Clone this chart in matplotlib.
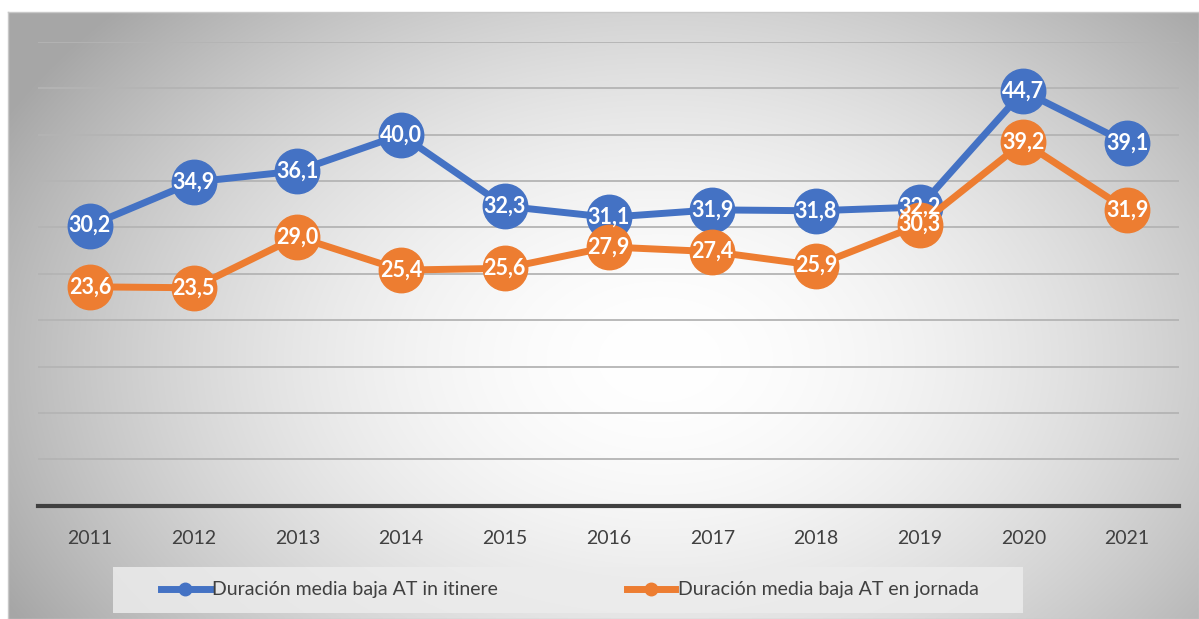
import numpy as np
import matplotlib
matplotlib.use("Agg")
import matplotlib.pyplot as plt
from matplotlib.lines import Line2D
from matplotlib.patches import Rectangle

years = ["2011", "2012", "2013", "2014", "2015", "2016", "2017", "2018", "2019", "2020", "2021"]
itinere = [30.2, 34.9, 36.1, 40.0, 32.3, 31.1, 31.9, 31.8, 32.2, 44.7, 39.1]
jornada = [23.6, 23.5, 29.0, 25.4, 25.6, 27.9, 27.4, 25.9, 30.3, 39.2, 31.9]
names = ["Duración media baja AT in itinere", "Duración media baja AT en jornada"]
colors = ["#4472C4", "#ED7D31"]

W, H = 1199, 619
fig = plt.figure(figsize=(W / 100, H / 100), dpi=100)
fig.patch.set_facecolor("white")

# radial grey background of the chart area
bx0, by0, bx1, by1 = 8, 12, 1199, 619
bg = fig.add_axes([bx0 / W, 1 - by1 / H, (bx1 - bx0) / W, (by1 - by0) / H])
gx, gy = np.meshgrid(np.linspace(bx0, bx1, 400), np.linspace(by0, by1, 200))
r = np.sqrt(((gx - 660) / 620) ** 2 + ((gy - 360) / 430) ** 2)
r = np.clip(r, 0, 1.2)
shade = 1 - 0.25 * r ** 1.8
bg.imshow(np.dstack([shade] * 3), aspect="auto", extent=[0, 1, 0, 1], interpolation="bilinear")
bg.set_xlim(0, 1)
bg.set_ylim(0, 1)
for s in bg.spines.values():
    s.set_color("#c8c8c8")
    s.set_linewidth(1)
bg.set_xticks([])
bg.set_yticks([])

# main axes
top, base, left, right = 42, 505.7, 38, 1179
ax = fig.add_axes([left / W, 1 - base / H, (right - left) / W, (base - top) / H])
ax.patch.set_alpha(0)
x = np.arange(len(years))
ax.set_xlim(-0.5, len(years) - 0.5)
ax.set_ylim(0, 50)
ax.set_yticks(np.arange(5, 51, 5))
ax.yaxis.grid(True, color="#b4b4b4", linewidth=1.3)
ax.set_axisbelow(True)
ax.tick_params(axis="y", left=False, labelleft=False)
ax.tick_params(axis="x", bottom=False, labelsize=14, labelcolor="#404040", pad=14)
ax.set_xticks(x)
ax.set_xticklabels(years, fontfamily="Lato")
for s in ["top", "left", "right"]:
    ax.spines[s].set_visible(False)
ax.spines["bottom"].set_color("#404040")
ax.spines["bottom"].set_linewidth(3)

for vals, c in zip([itinere, jornada], colors):
    ax.plot(x, vals, color=c, linewidth=5, marker="o", markersize=32,
            markerfacecolor=c, markeredgecolor=c, zorder=3, solid_capstyle="round")
for vals in [itinere, jornada]:
    for xi, v in zip(x, vals):
        ax.text(xi, v, f"{v:.1f}".replace(".", ","), ha="center", va="center",
                color="white", fontsize=15.5, fontweight="bold", fontfamily="Lato", zorder=5)

# legend
fig.patches.append(Rectangle((113 / W, 1 - 613 / H), (1023 - 113) / W, 46 / H,
                             transform=fig.transFigure, facecolor="#ececec",
                             edgecolor="none", alpha=0.85, zorder=1))
handles = [Line2D([0], [0], color=c, linewidth=5, marker="o", markersize=9) for c in colors]
leg = fig.legend(handles, names, loc="center", bbox_to_anchor=(570 / W, 1 - 590 / H),
                 ncol=2, frameon=False, handlelength=2.5, handletextpad=0.15,
                 columnspacing=6.6, prop={"family": "Lato", "size": 14})
for t in leg.get_texts():
    t.set_color("#404040")

fig.savefig("out.png", dpi=100)
